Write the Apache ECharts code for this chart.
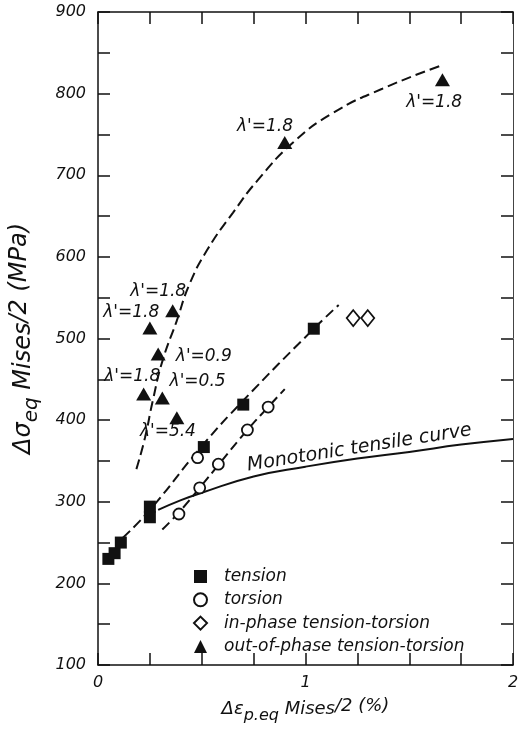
<!DOCTYPE html>
<html>
<head>
<meta charset="utf-8">
<script src="https://cdn.jsdelivr.net/npm/echarts@6/dist/echarts.min.js"></script>
<style>
  html, body { margin: 0; padding: 0; background: #fff; }
  #main { width: 518px; height: 729px; }
</style>
</head>
<body>
<div id="main"></div>
<script>
// measured points (strain amplitude %, stress amplitude MPa)
var tension = [[0.05, 230], [0.08, 237], [0.11, 250], [0.25, 281], [0.25, 294], [0.51, 367], [0.70, 419], [1.04, 512]]
var torsion = [[0.39, 285], [0.49, 317], [0.48, 354], [0.58, 346], [0.72, 388], [0.82, 416]]
var inPhase = [[1.23, 525], [1.30, 525]]
var outPhase = [[0.22, 432], [0.25, 513], [0.29, 481], [0.31, 427], [0.36, 534], [0.38, 403], [0.90, 740], [1.66, 817]]

// fitted / hand drawn curves
var outPhaseCurve = [[0.185, 340], [0.226, 378], [0.265, 425], [0.31, 472], [0.38, 522], [0.44, 566], [0.525, 608], [0.65, 654], [0.77, 694], [0.94, 740], [1.13, 776], [1.37, 806], [1.66, 835]]
var tensionCurve = [[0.12, 256], [0.25, 290], [0.5, 368], [0.7, 424], [1.04, 512], [1.16, 541]]
var torsionCurve = [[0.31, 266], [0.39, 287], [0.49, 317], [0.58, 345], [0.72, 388], [0.82, 416], [0.90, 438]]
var monotonic = [[0.29, 290], [0.4, 302], [0.5, 311], [0.75, 331], [1.0, 343], [1.25, 353], [1.5, 361], [1.75, 370], [2.0, 377]]

// lambda' labels next to the out-of-phase points
var lambdaLabels = [
  [0.805, 760, "λ'=1.8"],
  [1.62, 789, "λ'=1.8"],
  [0.29, 557, "λ'=1.8"],
  [0.16, 532, "λ'=1.8"],
  [0.51, 478, "λ'=0.9"],
  [0.165, 453, "λ'=1.8"],
  [0.48, 447, "λ'=0.5"],
  [0.337, 386, "λ'=5.4"]
]
var curveLabel = [[1.26, 366, 'Monotonic tensile curve']]

var font = 'DejaVu Sans'
var ink = '#111'

var chart = echarts.init(document.getElementById('main'))

var dash = { color: ink, width: 2, type: [10, 5] }
var txt = { fontFamily: font, fontStyle: 'italic', color: ink }

chart.setOption({
  animation: false,
  backgroundColor: '#fff',
  grid: { left: 98, right: 5, top: 12, bottom: 64, outerBoundsMode: 'none' },
  legend: {
    orient: 'vertical',
    left: 193,
    top: 568,
    padding: 0,
    itemWidth: 13,
    itemHeight: 13,
    itemGap: 6.3,
    textStyle: Object.assign({ fontSize: 17, padding: [0, 0, 0, 12] }, txt),
    data: ['tension', 'torsion', 'in-phase tension-torsion', 'out-of-phase tension-torsion']
  },
  xAxis: [
    {
      type: 'value', min: 0, max: 2, interval: 0.25, position: 'bottom',
      splitLine: { show: false },
      axisLine: { onZero: false, lineStyle: { color: ink, width: 1.5 } },
      axisTick: { inside: true, length: 12, lineStyle: { color: ink, width: 1.5 } },
      axisLabel: Object.assign({
        margin: 10, fontSize: 16,
        formatter: function (v) { return v % 1 === 0 ? String(v) : '' }
      }, txt),
      name: '{t|Δε}{s|p.eq}{t| Mises}{u|/2 (%)}',
      nameLocation: 'middle',
      nameGap: 29,
      nameTextStyle: Object.assign({
        fontSize: 18,
        rich: {
          t: Object.assign({ fontSize: 18 }, txt),
          s: Object.assign({ fontSize: 16, padding: [14, 0, 0, 0] }, txt),
          u: Object.assign({ fontSize: 18, padding: [0, 0, 6, 0] }, txt)
        }
      }, txt)
    },
    {
      type: 'value', min: 0, max: 2, interval: 0.25, position: 'top',
      splitLine: { show: false },
      axisLine: { onZero: false, lineStyle: { color: ink, width: 1.5 } },
      axisTick: { inside: true, length: 12, lineStyle: { color: ink, width: 1.5 } },
      axisLabel: { show: false }
    }
  ],
  yAxis: [
    {
      type: 'value', min: 100, max: 900, interval: 50, position: 'left',
      splitLine: { show: false },
      axisLine: { onZero: false, lineStyle: { color: ink, width: 1.5 } },
      axisTick: { inside: true, length: 12, lineStyle: { color: ink, width: 1.5 } },
      axisLabel: Object.assign({
        margin: 12, fontSize: 16,
        formatter: function (v) { return v % 100 === 0 ? String(v) : '' }
      }, txt),
      name: '{t|Δσ}{s|eq}{t| Mises}{u|/2 (MPa)}',
      nameLocation: 'middle',
      nameRotate: 90,
      nameGap: 56,
      nameTextStyle: Object.assign({
        fontSize: 24,
        rich: {
          t: Object.assign({ fontSize: 24 }, txt),
          s: Object.assign({ fontSize: 20, padding: [17, 0, 0, 0] }, txt),
          u: Object.assign({ fontSize: 24, padding: [0, 0, 7, 0] }, txt)
        }
      }, txt)
    },
    {
      type: 'value', min: 100, max: 900, interval: 50, position: 'right',
      splitLine: { show: false },
      axisLine: { onZero: false, lineStyle: { color: '#444', width: 1 } },
      axisTick: { inside: true, length: 12, lineStyle: { color: ink, width: 1.5 } },
      axisLabel: { show: false }
    }
  ],
  series: [
    { type: 'line', data: outPhaseCurve, smooth: true, symbol: 'none', lineStyle: dash, z: 1 },
    { type: 'line', data: tensionCurve, smooth: true, symbol: 'none', lineStyle: dash, z: 1 },
    { type: 'line', data: torsionCurve, smooth: true, symbol: 'none', lineStyle: dash, z: 1 },
    { type: 'line', data: monotonic, smooth: true, symbol: 'none', lineStyle: { color: ink, width: 2 }, z: 1 },
    {
      name: 'tension', type: 'scatter', data: tension, symbol: 'rect', symbolSize: 12,
      itemStyle: { color: ink, opacity: 1 }, z: 3
    },
    {
      name: 'torsion', type: 'scatter', data: torsion, symbol: 'circle', symbolSize: 11,
      itemStyle: { color: '#fff', borderColor: ink, borderWidth: 1.8, opacity: 1 }, z: 3
    },
    {
      name: 'in-phase tension-torsion', type: 'scatter', data: inPhase, symbol: 'diamond', symbolSize: [13, 16],
      itemStyle: { color: '#fff', borderColor: ink, borderWidth: 1.8, opacity: 1 }, z: 3
    },
    {
      name: 'out-of-phase tension-torsion', type: 'scatter', data: outPhase, symbol: 'triangle', symbolSize: [15, 13],
      itemStyle: { color: ink, opacity: 1 }, z: 3
    },
    {
      type: 'scatter', data: lambdaLabels, symbol: 'circle', symbolSize: 1, silent: true, z: 4,
      itemStyle: { color: 'rgba(0,0,0,0)', opacity: 1 },
      label: Object.assign({
        show: true, position: 'inside', fontSize: 17, textBorderWidth: 0,
        formatter: function (p) { return p.data[2] }
      }, txt)
    },
    {
      type: 'scatter', data: curveLabel, symbol: 'circle', symbolSize: 1, silent: true, z: 4,
      itemStyle: { color: 'rgba(0,0,0,0)', opacity: 1 },
      label: Object.assign({
        show: true, position: 'inside', rotate: 9, fontSize: 19, textBorderWidth: 0,
        formatter: function (p) { return p.data[2] }
      }, txt)
    }
  ]
})
</script>
</body>
</html>
